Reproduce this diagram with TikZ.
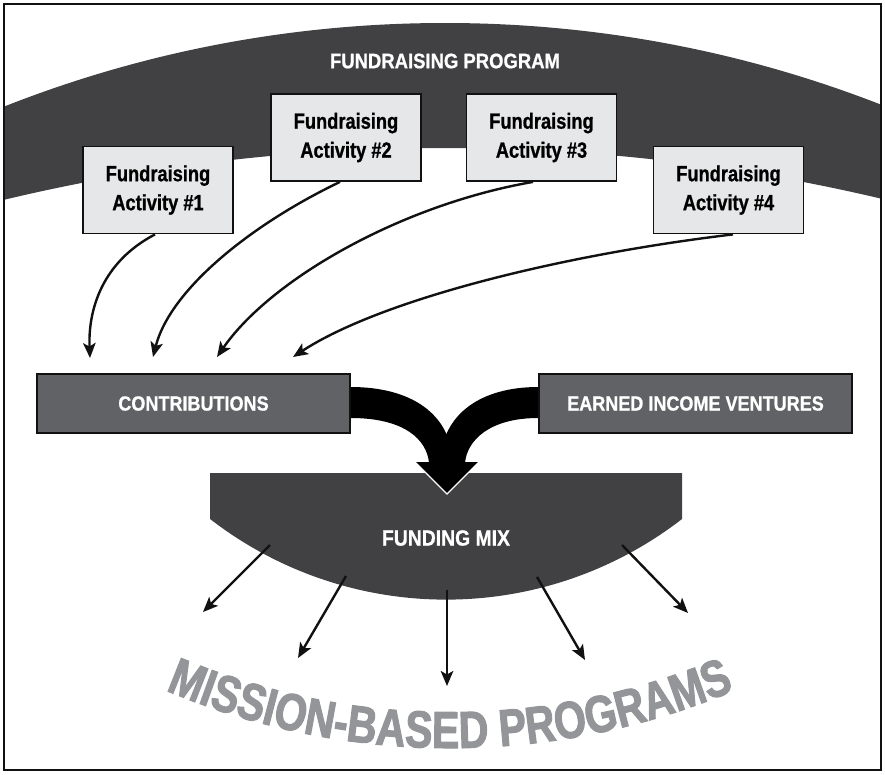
\documentclass[tikz,border=0pt]{standalone}
\usepackage{fontspec}
\setmainfont{Liberation Sans}
\newfontfamily\cf[FakeStretch=0.88,FakeBold=0.8]{Liberation Sans}
\newfontfamily\boxf[FakeStretch=0.83,FakeBold=0.8]{Liberation Sans}
\newfontfamily\mbf[FakeStretch=0.79,FakeBold=2]{Liberation Sans}
\usetikzlibrary{arrows.meta,decorations.text}
\definecolor{dark}{HTML}{414042}
\definecolor{boxgray}{HTML}{E6E7E8}
\definecolor{midgray}{HTML}{616265}
\definecolor{mgray}{HTML}{939598}
\definecolor{ink}{HTML}{111111}
\begin{document}
\begin{tikzpicture}[x=1pt,y=-1pt,
  actbox/.style={draw=ink, line width=1.8pt, fill=boxgray, minimum width=150pt, minimum height=87pt, align=center, inner sep=0pt, font=\boxf\bfseries\fontsize{22}{29}\selectfont},
  srcbox/.style={draw=ink, line width=1.8pt, fill=midgray, minimum width=313pt, minimum height=59pt, inner sep=0pt, text=white, font=\cf\bfseries\fontsize{20.5}{24}\selectfont},
  thinarr/.style={draw=ink, line width=2.4pt, -{Stealth[length=15pt,width=12.5pt,inset=3.5pt]}},
  whitelabel/.style={text=white, inner sep=0pt, font=\cf\bfseries\fontsize{21}{24}\selectfont}
]
\useasboundingbox (0,0) rectangle (885,774);

% top band
\begin{scope}
  \clip (5,5) rectangle (880,300);
  \fill[dark, even odd rule] (445,1223) circle[radius=1200] (445,2035) circle[radius=1887];
\end{scope}
\node[whitelabel] (title) at (445,61) {FUNDRAISING PROGRAM};

% activity boxes
\node[actbox] (b1) at (158,190) {Fundraising\\Activity \#1};
\node[actbox] (b2) at (346,137.5) {Fundraising\\Activity \#2};
\node[actbox] (b3) at (541.5,137.5) {Fundraising\\Activity \#3};
\node[actbox] (b4) at (728.5,190) {Fundraising\\Activity \#4};

% sources
\node[srcbox] (contrib) at (193.5,403.5) {CONTRIBUTIONS};
\node[srcbox] (earned) at (695.5,403.5) {EARNED INCOME VENTURES};

% arrows into contributions
\coordinate (t1) at (90,358);
\coordinate (t2) at (153,357);
\coordinate (t3) at (217,357);
\coordinate (t4) at (293,357);
\draw[thinarr] ([xshift=-3pt]b1.south) .. controls (102,262) and (88,310) .. (t1);
\draw[thinarr] ([xshift=-6pt]b2.south) .. controls (250,225) and (170,290) .. (t2);
\draw[thinarr] ([xshift=-8.5pt]b3.south) .. controls (400,205) and (270,280) .. (t3);
\draw[thinarr] ([xshift=4.5pt]b4.south) .. controls (560,255) and (380,300) .. (t4);

% funding mix
\fill[dark] (210,473) -- (682,473) -- (682,519) arc[start angle=52.27, end angle=127.73, radius=385.6] -- cycle;
\node[whitelabel, font=\cf\bfseries\fontsize{22}{24}\selectfont] (mix) at (446,538) {FUNDING MIX};

% merging flow
\coordinate (lf1) at ([yshift=16.5pt]contrib.east);
\coordinate (lf2) at ([yshift=-14.5pt]contrib.east);
\coordinate (rf1) at ([yshift=16.5pt]earned.west);
\coordinate (rf2) at ([yshift=-14.5pt]earned.west);
\coordinate (tip) at (447,494);
\fill[black] (lf1) .. controls (410,387) and (451,413) .. (453,463) -- (429,463) .. controls (427,440) and (405,418) .. (lf2) -- cycle;
\fill[black] (rf1) .. controls (482,387) and (442,413) .. (440,463) -- (465,463) .. controls (467,440) and (490,418) .. (rf2) -- cycle;
\fill[black] (415,462) -- (479,462) -- (tip) -- cycle;
\draw[white, line width=1.2pt] (415,462) -- (tip) -- (479,462);

% arrows out of funding mix
\coordinate (s1) at (270,545); \coordinate (m1) at (203,612);
\coordinate (s2) at (346,576); \coordinate (m2) at (298,658);
\coordinate (s3) at (447,590); \coordinate (m3) at (447,686);
\coordinate (s4) at (537,577); \coordinate (m4) at (585,660);
\coordinate (s5) at (622,545); \coordinate (m5) at (688,613);
\foreach \i in {1,...,5} \draw[thinarr] (s\i) -- (m\i);

% mission-based programs
\path[decorate, decoration={text along path, text align=center,
  text={|\mbf\bfseries\fontsize{52}{52}\selectfont\color{mgray}|MISSION-BASED PROGRAMS}}]
  (450,19) ++(118:729) arc[start angle=118, end angle=62, radius=729];

% frame
\draw[ink, line width=2pt] (4,4) rectangle (881,770);
\end{tikzpicture}
\end{document}
